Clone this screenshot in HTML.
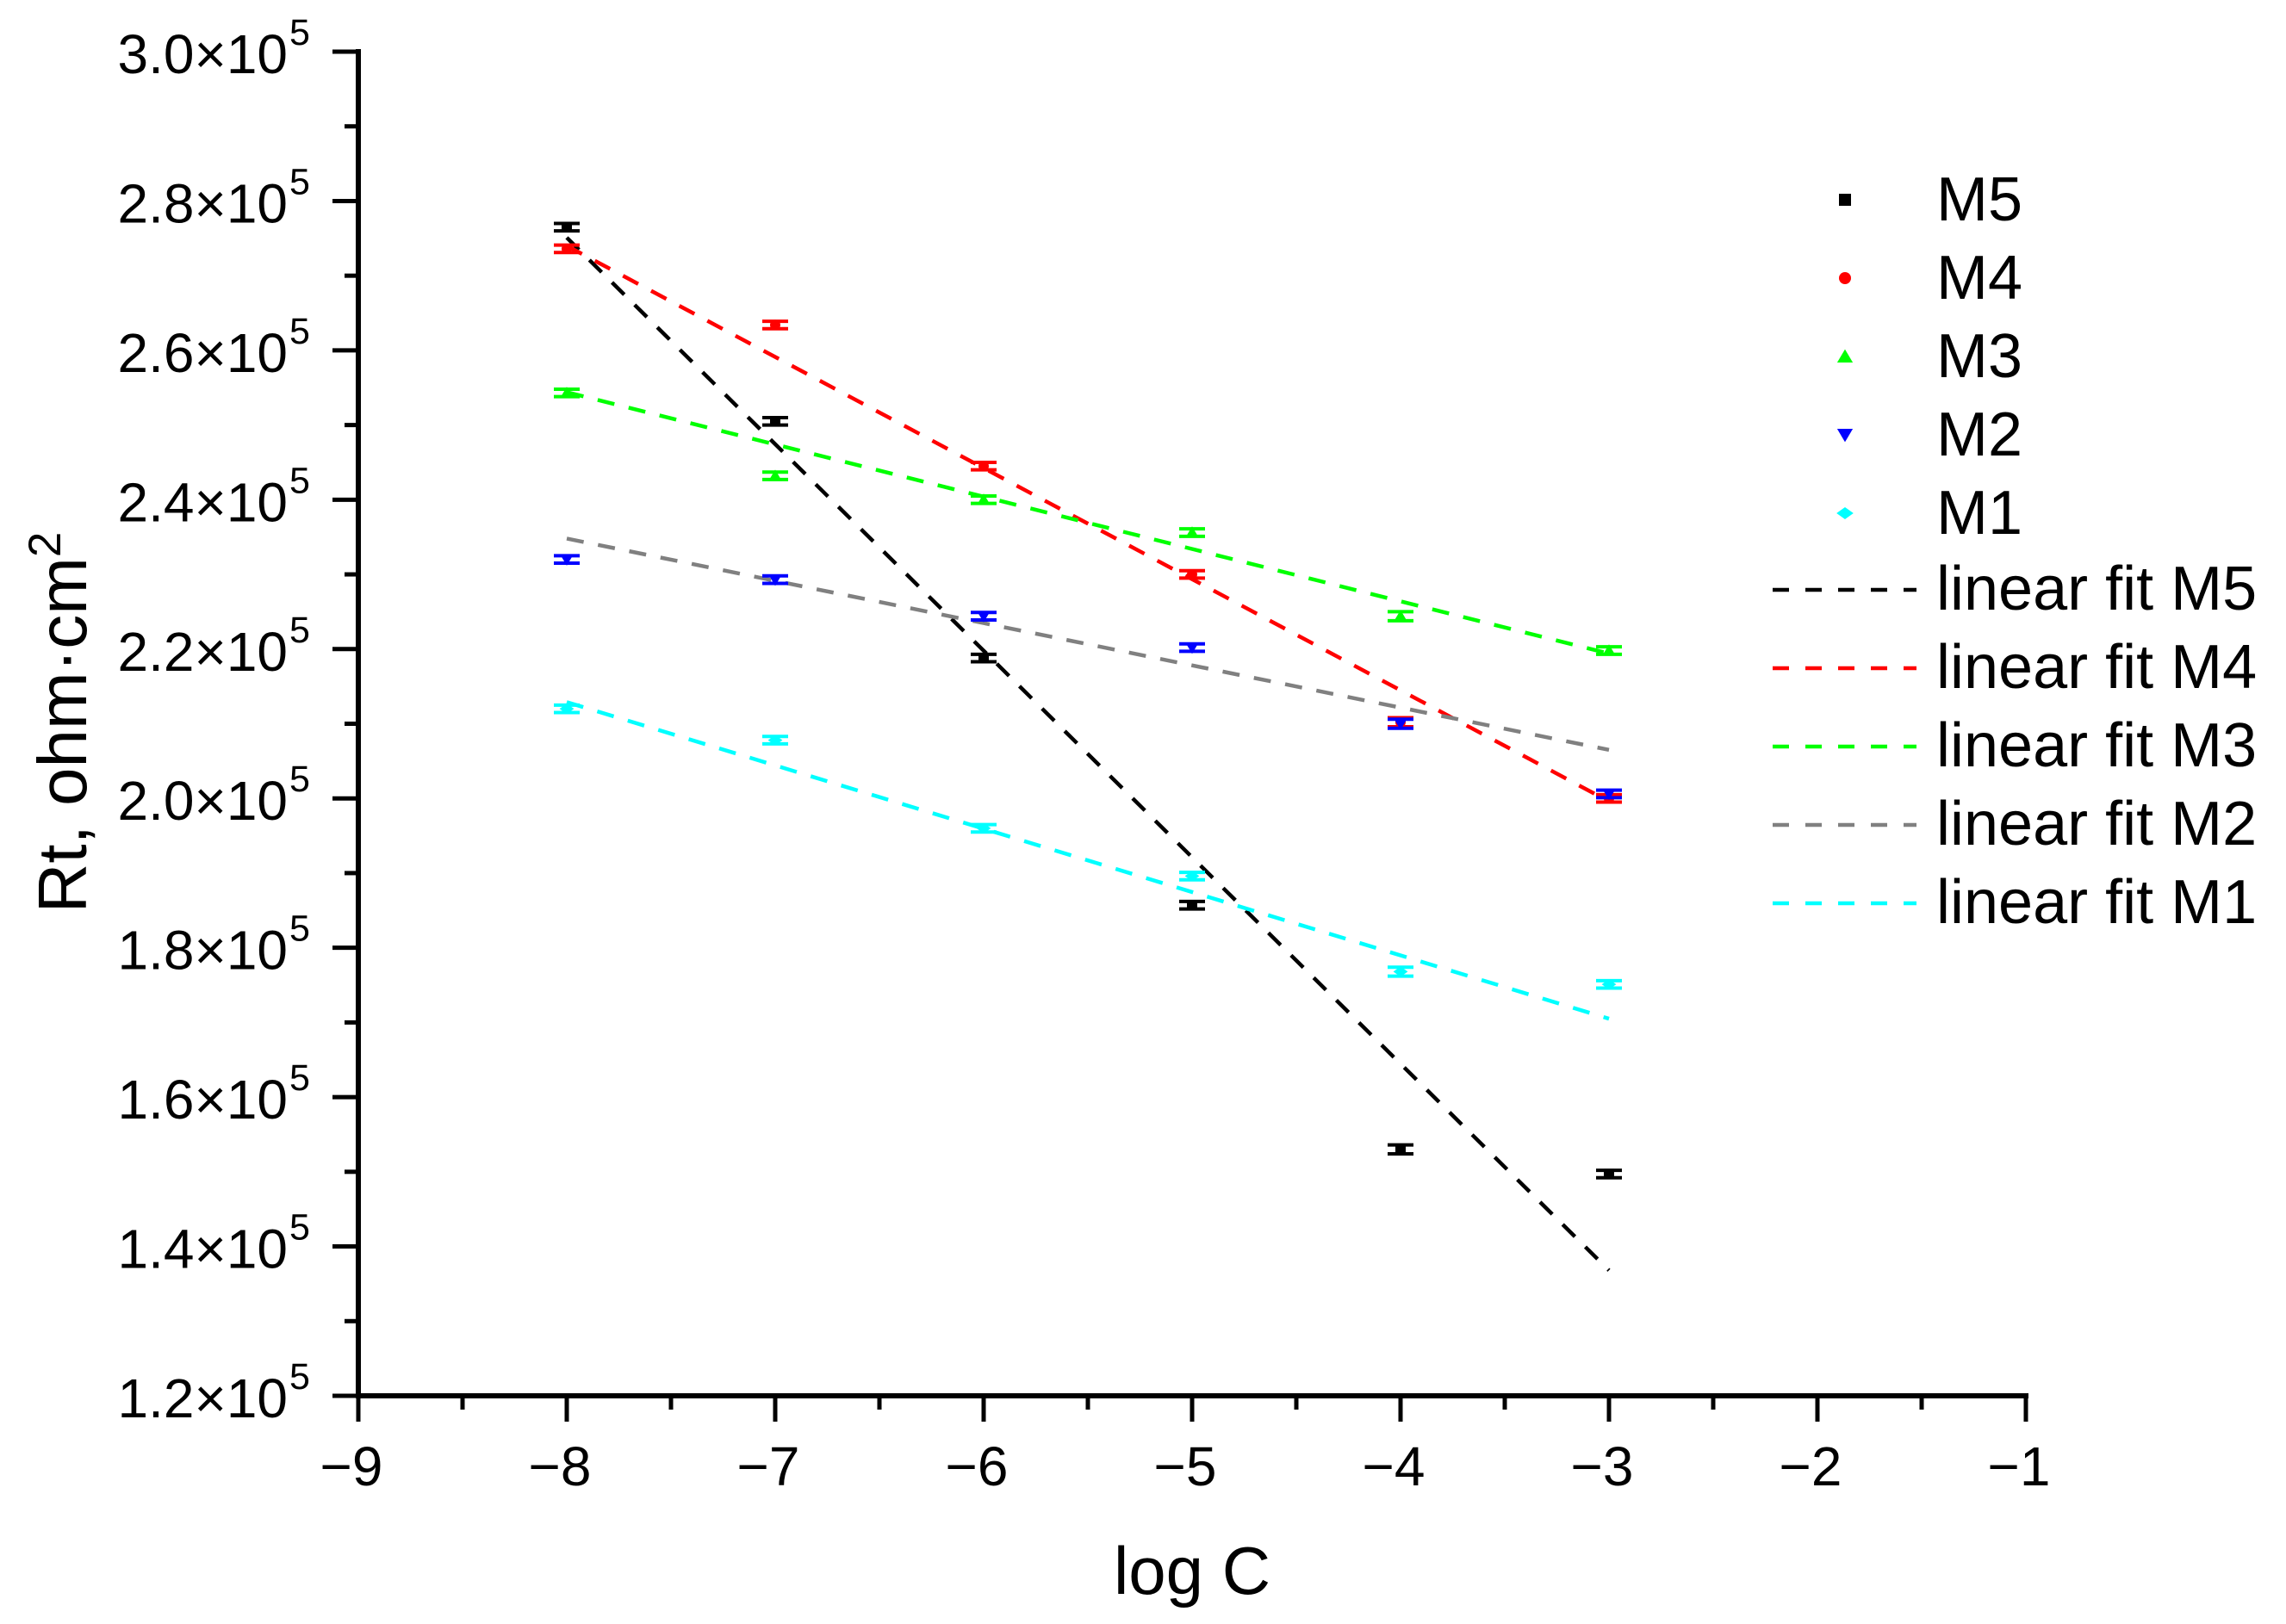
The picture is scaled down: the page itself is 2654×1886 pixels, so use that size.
<!DOCTYPE html>
<html><head><meta charset="utf-8"><style>
html,body{margin:0;padding:0;background:#fff}
svg{display:block;font-family:"Liberation Sans",Arial,sans-serif}
</style></head><body>
<svg id="chart" width="2654" height="1886" viewBox="0 0 2654 1886" xmlns="http://www.w3.org/2000/svg">
<g id="axes"></g>
<g id="fits"></g>
<g id="points"></g>
<g id="legend"></g>
<text x="1384" y="1851" font-size="78" text-anchor="middle">log C</text>
<text transform="translate(100,839) rotate(-90)" font-size="80" text-anchor="middle">Rt, ohm·cm<tspan dy="-30" font-size="53">2</tspan></text>
</svg>
<script>
const xCats = [-8, -7, -6, -5, -4, -3];
const seriesNames = ["M5", "M4", "M3", "M2", "M1"];
const seriesColors = ["#000000", "#ff0000", "#00ff00", "#0000ff", "#00ffff"];
const fitColors = ["#000000", "#ff0000", "#00ff00", "#808080", "#00ffff"];
const valsM5 = [2.765, 2.505, 2.188, 1.857, 1.530, 1.497];
const valsM4 = [2.736, 2.634, 2.445, 2.300, 2.102, 2.000];
const valsM3 = [2.543, 2.432, 2.400, 2.356, 2.244, 2.198];
const valsM2 = [2.320, 2.293, 2.244, 2.202, 2.100, 2.006];
const valsM1 = [2.120, 2.078, 1.960, 1.896, 1.768, 1.751];
const errs = [0.005, 0.005, 0.005, 0.005, 0.006, 0.005];
const fitStartVals = [2.751, 2.740, 2.544, 2.348, 2.129];
const fitEndVals = [1.368, 1.996, 2.194, 2.065, 1.705];
const xTicks = [-9, -8, -7, -6, -5, -4, -3, -2, -1];
const yTicks = [1.2, 1.4, 1.6, 1.8, 2.0, 2.2, 2.4, 2.6, 2.8, 3.0];
const allVals = [valsM5, valsM4, valsM3, valsM2, valsM1];

const NS = "http://www.w3.org/2000/svg";
const X0 = 416, X1 = 2352, Y0 = 1621, Y1 = 60;
function sx(v){ return X0 + (v + 9) / 8 * (X1 - X0); }
function sy(v){ return Y0 - (v - 1.2) / 1.8 * (Y0 - Y1); }
function mk(tag, attrs, parent){
  const e = document.createElementNS(NS, tag);
  for (const k in attrs) e.setAttribute(k, attrs[k]);
  parent.appendChild(e); return e;
}
const axes = document.getElementById('axes');
let l = mk('line', {x1:X0, y1:Y1-3, x2:X0, y2:Y0+3, stroke:'#000','stroke-width':6}, axes);


l = mk('line', {x1:X0-3, y1:Y0, x2:X1+3, y2:Y0, stroke:'#000','stroke-width':6}, axes);


for (let i = 0; i < xTicks.length; i++){
  const x = sx(xTicks[i]);
  const t = mk('line', {x1:x, y1:Y0, x2:x, y2:Y0+30, stroke:'#000','stroke-width':5}, axes);
  
  
  if (i < xTicks.length - 1){
    const xm = sx(xTicks[i] + 0.5);
    const m = mk('line', {x1:xm, y1:Y0, x2:xm, y2:Y0+16, stroke:'#000','stroke-width':5}, axes);
    
    
  }
  const tx = mk('text', {x:x-8, y:1725, 'font-size':64, 'text-anchor':'middle'}, axes);
  tx.textContent = '\u2212' + Math.abs(xTicks[i]);
  
  
}
for (let i = 0; i < yTicks.length; i++){
  const y = sy(yTicks[i]);
  const t = mk('line', {x1:X0-30, y1:y, x2:X0, y2:y, stroke:'#000','stroke-width':5}, axes);
  
  
  if (i < yTicks.length - 1){
    const ym = sy(yTicks[i] + 0.1);
    const m = mk('line', {x1:X0-16, y1:ym, x2:X0, y2:ym, stroke:'#000','stroke-width':5}, axes);
    
    
  }
  const tx = mk('text', {x:334, y:y+25, 'font-size':64, 'text-anchor':'end'}, axes);
  tx.textContent = yTicks[i].toFixed(1) + '\u00d710';
  
  
  const sp = mk('text', {x:336, y:y-8, 'font-size':43}, axes);
  sp.textContent = '5';
  
  
}
const fits = document.getElementById('fits');
for (let s = 0; s < 5; s++){
  const f = mk('line', {x1:sx(xCats[0]), y1:sy(fitStartVals[s]), x2:sx(xCats[xCats.length-1]), y2:sy(fitEndVals[s]), stroke:fitColors[s], 'stroke-width':4.5, 'stroke-dasharray':'20 17'}, fits);
  
  
}
function marker(s, cx, cy, parent, size){
  const c = seriesColors[s], r = size;
  let e;
  if (s === 0) e = mk('rect', {x:cx-r, y:cy-r, width:2*r, height:2*r, fill:c}, parent);
  else if (s === 1) e = mk('circle', {cx:cx, cy:cy, r:r, fill:c}, parent);
  else if (s === 2) e = mk('polygon', {points:`${cx-r*1.3},${cy+r} ${cx+r*1.3},${cy+r} ${cx},${cy-r*1.2}`, fill:c}, parent);
  else if (s === 3) e = mk('polygon', {points:`${cx-r*1.3},${cy-r} ${cx+r*1.3},${cy-r} ${cx},${cy+r*1.2}`, fill:c}, parent);
  else e = mk('polygon', {points:`${cx-r*1.4},${cy} ${cx},${cy-r} ${cx+r*1.4},${cy} ${cx},${cy+r}`, fill:c}, parent);
  return e;
}
const pts = document.getElementById('points');
for (let s = 0; s < 5; s++){
  const g = mk('g', {}, pts);
  
  
  for (let i = 0; i < xCats.length; i++){
    const cx = sx(xCats[i]), v = allVals[s][i];
    const yt = sy(v + errs[i]), yb = sy(v - errs[i]);
    const eb = mk('path', {d:`M${cx-15},${yt}H${cx+15}M${cx-15},${yb}H${cx+15}M${cx},${yt}V${yb}`, stroke:seriesColors[s], 'stroke-width':4, fill:'none'}, g);
    
    
    const m = marker(s, cx, sy(v), g, 6);
    
    
  }
}
const leg = document.getElementById('legend');
for (let s = 0; s < 5; s++){
  const y = 256 + s * 91;
  const m = marker(s, 2142, y - 24, leg, 7);
  
  
  const t = mk('text', {x:2248, y:y, 'font-size':72}, leg);
  t.textContent = seriesNames[s];
  
  
}
for (let s = 0; s < 5; s++){
  const y = 708 + s * 91;
  const ln = mk('line', {x1:2058, y1:y-23, x2:2225, y2:y-23, stroke:fitColors[s], 'stroke-width':4.5, 'stroke-dasharray':'19 19'}, leg);
  
  
  const t = mk('text', {x:2248, y:y, 'font-size':72}, leg);
  t.textContent = 'linear fit ' + seriesNames[s];
  
  
}
</script>
</body></html>
